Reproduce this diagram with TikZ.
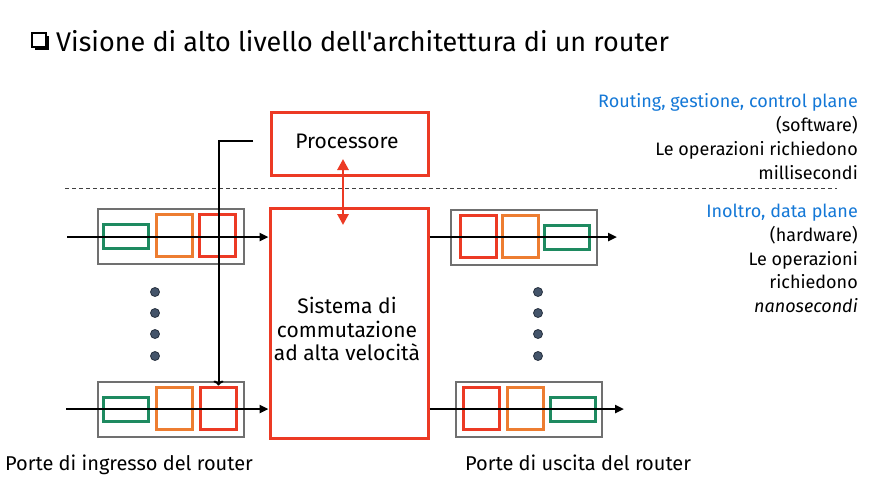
\documentclass[tikz,border=0pt]{standalone}
\usepackage{fontspec}
\setmainfont{Fira Sans}
\usetikzlibrary{arrows.meta}
\definecolor{cred}{RGB}{236,58,36}
\definecolor{corange}{RGB}{237,125,49}
\definecolor{cgreen}{RGB}{30,138,96}
\definecolor{cgray}{RGB}{112,112,112}
\definecolor{cblue}{RGB}{20,120,215}
\definecolor{cdot}{RGB}{68,84,106}
\definecolor{cdotb}{RGB}{40,50,64}
\begin{document}
\begin{tikzpicture}[x=1pt,y=-1pt,
  port/.style={draw=cgray,line width=2,minimum width=146,minimum height=55,inner sep=0},
  qr/.style={draw=cred,line width=3,minimum width=36,minimum height=42,inner sep=0},
  qo/.style={draw=corange,line width=3,minimum width=36,minimum height=42,inner sep=0},
  qg/.style={draw=cgreen,line width=3,minimum width=45,minimum height=24,inner sep=0},
  bigbox/.style={draw=cred,line width=3,inner sep=0},
  flow/.style={line width=2.5,-{Triangle[length=9pt,width=8pt]}},
  dot/.style={circle,fill=cdot,draw=cdotb,line width=0.8,minimum size=9,inner sep=0},
  lbl/.style={font=\fontsize{20}{23.5}\selectfont,inner sep=0},
  rtxt/.style={font=\fontsize{18}{22}\selectfont,inner sep=0,anchor=base east},
]
\useasboundingbox[fill=white] (0,0) rectangle (894,483);

% title bullet
\fill[black] (34.5,35.5) rectangle (48.5,49.5);
\draw[black,fill=white,line width=1.3] (32,33) rectangle (46,47);
\node[anchor=base west,inner sep=0,font=\fontsize{27}{30}\selectfont] (title) at (56,51)
  {Visione di alto livello dell\textquotesingle architettura di un router};

% dashed separator
\draw[dashed,dash pattern=on 4pt off 3pt,line width=1,black!75] (65,188) -- (837,188);

% processor and switch fabric
\node[bigbox,minimum width=157,minimum height=63] (proc) at (349.5,143.5) {};
\node[lbl,font=\fontsize{21}{24}\selectfont] (proctxt) at (347,141) {Processore};
\node[bigbox,minimum width=158,minimum height=230] (sw) at (349,323) {};
\node[lbl,align=center,font=\fontsize{21}{23.5}\selectfont] (swtxt) at (347,329) {Sistema di\\commutazione\\ad alta velocità};

\coordinate (pa) at (343,159);
\coordinate (pb) at (343,225);
\draw[cred,line width=2.8,{Triangle[length=11pt,width=11pt]}-{Triangle[length=11pt,width=11pt]}] (pa) -- (pb);

% input ports
\node[port] (ip1) at (170.5,236) {};
\node[qg] (ig1) at (125.5,236.5) {};
\node[qo] (io1) at (174,235.5) {};
\node[qr] (ir1) at (217.5,235.5) {};
\node[port] (ip2) at (171,409) {};
\node[qg] (ig2) at (125.5,409) {};
\node[qo] (io2) at (174,408) {};
\node[qr] (ir2) at (218.5,408) {};

% output ports
\node[port] (op1) at (523.5,237) {};
\node[qr] (or1) at (478.5,236) {};
\node[qo] (oo1) at (520.5,236) {};
\node[qg] (og1) at (566.5,237.5) {};
\node[port] (op2) at (528.5,409) {};
\node[qr] (or2) at (481.5,408) {};
\node[qo] (oo2) at (525,408) {};
\node[qg] (og2) at (572.5,409) {};

% flows
\coordinate (in1) at (67,237);
\coordinate (in2) at (66,409);
\coordinate (out1) at (617,237);
\coordinate (out2) at (624,409);
\draw[flow] (in1) -- (in1 -| sw.west);
\draw[flow] (in2) -- (in2 -| sw.west);
\draw[flow] (out1 -| sw.east) -- (out1);
\draw[flow] (out2 -| sw.east) -- (out2);

% control line from processor to input port
\coordinate (ctl) at (253,141);
\draw[line width=2,-{To[length=5pt,width=10pt]}] (ctl) -| (ir2.north);

% ellipsis dots
\foreach \yy [count=\i] in {292,313,334,356} {
  \node[dot] (ld\i) at (155,\yy) {};
  \node[dot] (rd\i) at (538,\yy) {};
}

% bottom labels
\node[lbl,anchor=base west] (inlbl) at (5,470) {Porte di ingresso del router};
\node[lbl,anchor=base west] (outlbl) at (465,470) {Porte di uscita del router};

% right-hand notes
\node[rtxt,text=cblue] (c1) at (858,107) {Routing, gestione, control plane};
\node[rtxt] (c2) at (858,131) {(software)};
\node[rtxt] (c3) at (858,155) {Le operazioni richiedono};
\node[rtxt] (c4) at (858,179) {millisecondi};
\node[rtxt,text=cblue] (d1) at (858,217) {Inoltro, data plane};
\node[rtxt] (d2) at (858,241) {(hardware)};
\node[rtxt] (d3) at (858,265) {Le operazioni};
\node[rtxt] (d4) at (858,288) {richiedono};
\node[rtxt] (d5) at (858,312) {\itshape nanosecondi};
\end{tikzpicture}
\end{document}
